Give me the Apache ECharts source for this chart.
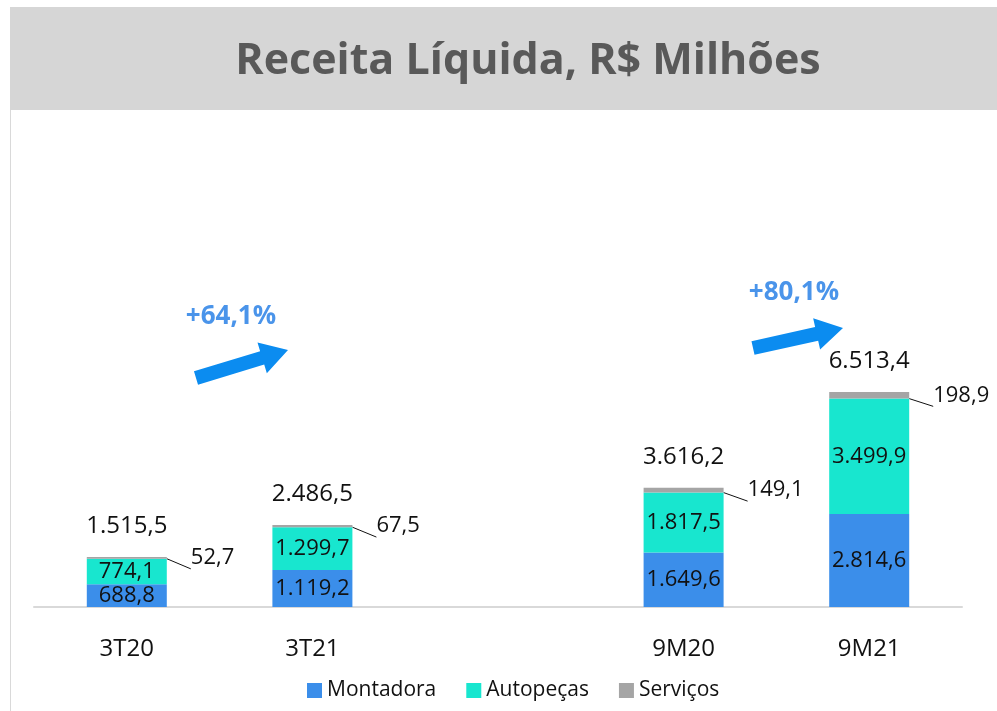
<!DOCTYPE html>
<html>
<head>
<meta charset="utf-8">
<script src="https://cdn.jsdelivr.net/npm/echarts@6/dist/echarts.min.js"></script>
<style>
  html, body { margin: 0; padding: 0; background: #fff; }
  #main { width: 997px; height: 711px; }
</style>
</head>
<body>
<div id="main"></div>
<script>
// dados (R$ milhões)
var categorias = ['3T20', '3T21', '', '9M20', '9M21'];
var montadora  = [688.8, 1119.2, '-', 1649.6, 2814.6];
var autopecas  = [774.1, 1299.7, '-', 1817.5, 3499.9];
var servicos   = [52.7, 67.5, '-', 149.1, 198.9];
var totais     = [1515.5, 2486.5, '-', 3616.2, 6513.4];
var variacoes  = ['+64,1%', '+80,1%'];

var fonte = 'Open Sans';

function fmt(v) {
  var p = Number(v).toFixed(1).split('.');
  var inteiro = p[0].replace(/\B(?=(\d{3})+(?!\d))/g, '.');
  return inteiro + ',' + p[1];
}

// seta em bloco (decoração)
function seta(x0, y0, x1, y1) {
  var dx = x1 - x0, dy = y1 - y0;
  var L = Math.sqrt(dx * dx + dy * dy);
  var ux = dx / L, uy = dy / L, nx = -uy, ny = ux;
  var hw = 7, hh = 16, hl = 27;
  function pt(a, b) { return [x0 + ux * a + nx * b, y0 + uy * a + ny * b]; }
  return [pt(0, hw), pt(L - hl, hw), pt(L - hl, hh), pt(L, 0), pt(L - hl, -hh), pt(L - hl, -hw), pt(0, -hw)];
}

var chart = echarts.init(document.getElementById('main'));

var option = {
  animation: false,
  textStyle: { fontFamily: fonte },
  grid: { left: 34, right: 35, top: 145, bottom: 104 },
  legend: {
    data: ['Montadora', 'Autopeças', 'Serviços'],
    left: 302, bottom: 5,
    itemWidth: 15, itemHeight: 15, itemGap: 30,
    icon: 'rect',
    textStyle: { fontSize: 21, color: '#111', fontFamily: fonte }
  },
  xAxis: {
    type: 'category',
    data: categorias,
    axisLine: { lineStyle: { color: '#d9d9d9', width: 2 } },
    axisTick: { show: false },
    axisLabel: { fontSize: 24, color: '#111', margin: 30 }
  },
  yAxis: {
    type: 'value', min: 0, max: 14000,
    show: false, splitLine: { show: false }
  },
  graphic: [
    { type: 'rect', z: -1, shape: { x: 10, y: 7, width: 987, height: 103 }, style: { fill: '#d6d6d6' } },
    { type: 'line', shape: { x1: 10.5, y1: 110, x2: 10.5, y2: 711 }, style: { stroke: '#d9d9d9', lineWidth: 1 } },
    { type: 'text', x: 528, y: 62,
      style: { text: 'Receita Líquida, R$ Milhões', font: 'bold 43px "' + fonte + '"', fill: '#595959', align: 'center', verticalAlign: 'middle' } },
    { type: 'polygon', shape: { points: seta(196, 378, 288, 350) }, style: { fill: '#0b8cf0' } },
    { type: 'polygon', shape: { points: seta(753, 348, 843, 328) }, style: { fill: '#0b8cf0' } },
    { type: 'text', x: 231, y: 317, style: { text: variacoes[0], font: 'bold 26px "' + fonte + '"', fill: '#4a94ea', align: 'center', verticalAlign: 'middle' } },
    { type: 'text', x: 794, y: 293, style: { text: variacoes[1], font: 'bold 26px "' + fonte + '"', fill: '#4a94ea', align: 'center', verticalAlign: 'middle' } }
  ],
  series: [
    {
      name: 'Montadora', type: 'bar', stack: 'r', barWidth: 80,
      data: montadora,
      itemStyle: { color: '#3b8eea' },
      label: { show: true, position: 'inside', fontSize: 22, color: '#111', formatter: function (p) { return fmt(p.value); } }
    },
    {
      name: 'Autopeças', type: 'bar', stack: 'r',
      data: autopecas,
      itemStyle: { color: '#18e6cf' },
      label: { show: true, position: 'inside', fontSize: 22, color: '#111', formatter: function (p) { return fmt(p.value); } }
    },
    {
      name: 'Serviços', type: 'bar', stack: 'r',
      data: servicos,
      itemStyle: { color: '#a5a5a5' },
      label: { show: true, position: 'right', distance: 24, fontSize: 22, color: '#111', formatter: function (p) { return fmt(p.value); } },
      labelLine: { show: true, lineStyle: { color: '#111', width: 1 } }
    },
    {
      name: 'Total', type: 'bar', stack: 'r',
      data: totais.map(function (t) { return t === '-' ? '-' : 0; }),
      itemStyle: { color: 'transparent' },
      label: {
        show: true, position: 'top', distance: 19, fontSize: 24, color: '#111',
        formatter: function (p) { return fmt(totais[p.dataIndex]); }
      }
    }
  ]
};

chart.setOption(option);
</script>
</body>
</html>
